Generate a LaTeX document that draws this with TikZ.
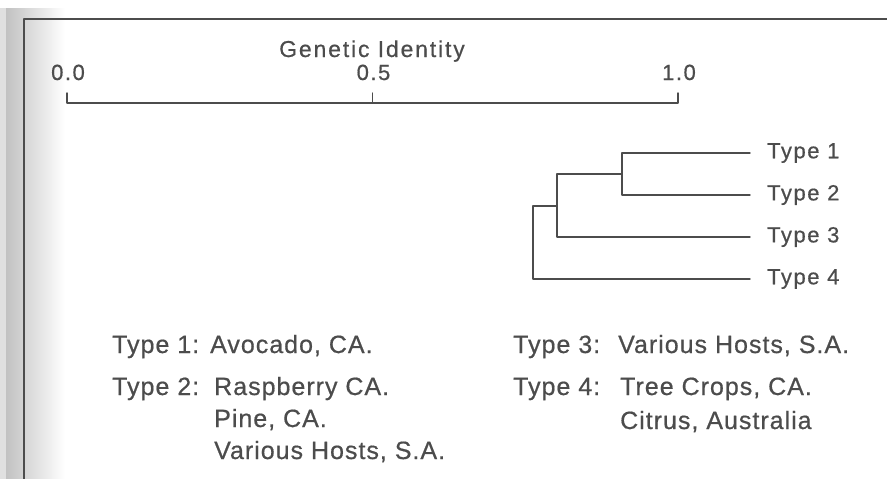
\documentclass[tikz,border=0pt]{standalone}
\usepackage{fontspec}
\setmainfont{Liberation Sans}[FakeBold=0.6]
\usetikzlibrary{positioning}
\definecolor{ink}{gray}{0.3}
\newcommand{\headfont}{\fontsize{22}{26}\selectfont\addfontfeatures{LetterSpace=7}}
\newcommand{\titlefont}{\fontsize{23}{27}\selectfont\addfontfeatures{LetterSpace=8}}
\newcommand{\legfont}{\fontsize{25}{30}\selectfont\addfontfeatures{LetterSpace=4}}

\begin{document}
\begin{tikzpicture}[x=1pt, y=-1pt, line cap=round, line join=round, font=\headfont, text=ink]
	\tikzset{head/.style={inner sep=0, anchor=base},
		typelab/.style={anchor=west, inner ysep=0, inner xsep=17pt},
		legend/.style={font=\legfont, inner sep=0, anchor=base west},
		branch/.style={draw=ink, line width=1.4pt}}
	\useasboundingbox (0,0) rectangle (887,479);
	% page edge and frame
	\fill[black!12] (0,8) rectangle (6,479);
	\shade[left color=black!24, right color=white] (6,8) rectangle (65,479);
	\draw[ink, line width=1.2pt] (24,479) -- (24,19) -- (887,19);
	% scale
	\node[head, font=\titlefont] (title) at (372,57) {Genetic Identity};
	\foreach \i/\v/\lab in {0/0/0.0, 1/0.5/0.5, 2/1/1.0} {
		\coordinate (a\i) at ({67+611*\v},103);
		\node[head] (n\i) at ({68+611*\v},80) {\lab};
	}
	\draw[branch] (a0) ++(0,-10) -- (a0) -- (a2) -- ++(0,-10);
	\draw[branch] (a1) -- ++(0,-10);
	% dendrogram
	\node[typelab] (t1) at (750,153) {Type 1};
	\node[typelab] (t2) at (750,195) {Type 2};
	\node[typelab] (t3) at (750,237) {Type 3};
	\node[typelab] (t4) at (750,279) {Type 4};
	\coordinate (j12) at (622,174);
	\coordinate (j123) at (557,206);
	\coordinate (j1234) at (533,242);
	\draw[branch] (t1.west) -| (j12) |- (t2.west);
	\draw[branch] (j12) -| (j123) |- (t3.west);
	\draw[branch] (j123) -| (j1234) |- (t4.west);
	% legend
	\node[legend] (k1) at (112,353) {Type 1:};
	\node[legend] (v1) at (210,353) {Avocado, CA.};
	\node[legend] (k2) at (112,395) {Type 2:};
	\node[legend] (v2a) at (214,395) {Raspberry CA.};
	\node[legend] (v2b) at (214,427) {Pine, CA.};
	\node[legend] (v2c) at (214,459) {Various Hosts, S.A.};
	\node[legend] (k3) at (513,353) {Type 3:};
	\node[legend] (v3) at (618,353) {Various Hosts, S.A.};
	\node[legend] (k4) at (513,395) {Type 4:};
	\node[legend] (v4a) at (620,395) {Tree Crops, CA.};
	\node[legend] (v4b) at (620,429) {Citrus, Australia};
\end{tikzpicture}
\end{document}
